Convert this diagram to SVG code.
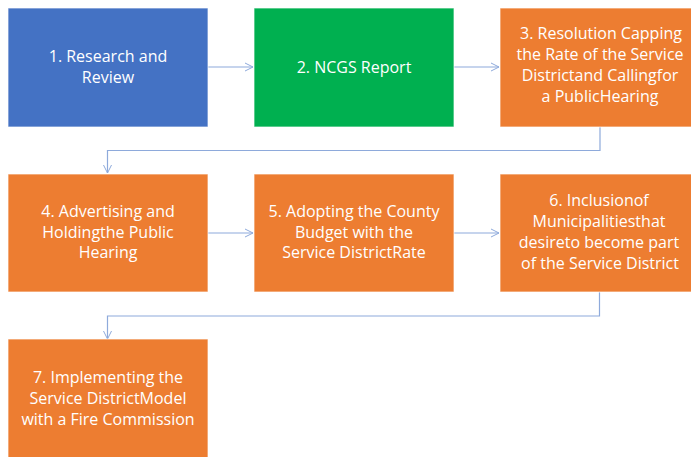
<svg xmlns="http://www.w3.org/2000/svg" width="691" height="457" viewBox="0 0 691 457">
<defs>
<style>
.box{stroke:#ffffff;stroke-opacity:0.7;stroke-width:1}
.blue{fill:#4472C4}
.green{fill:#00B050}
.orange{fill:#ED7D31}
.t{font-family:"Open Sans","Liberation Sans",sans-serif;font-size:16px;fill:#ffffff;text-anchor:middle}
.c{fill:none;stroke:#8EAADB;stroke-width:1.2}
</style>
<marker id="ah" markerWidth="10" markerHeight="10" refX="9" refY="5" orient="auto" markerUnits="userSpaceOnUse">
<path d="M1,1 L9,5 L1,9" fill="none" stroke="#8EAADB" stroke-width="1"/>
</marker>
</defs>
<rect width="691" height="457" fill="#ffffff"/>
<g id="connectors">
<line class="c" x1="208" y1="67" x2="253" y2="67" marker-end="url(#ah)"/>
<line class="c" x1="454" y1="67" x2="499" y2="67" marker-end="url(#ah)"/>
<path class="c" d="M600,127 V150.5 H107.5 V173" marker-end="url(#ah)"/>
<line class="c" x1="208" y1="233" x2="253" y2="233" marker-end="url(#ah)"/>
<line class="c" x1="454" y1="233" x2="499" y2="233" marker-end="url(#ah)"/>
<path class="c" d="M599.5,292 V316 H107.5 V339" marker-end="url(#ah)"/>
</g>
<g id="node1">
<rect class="box blue" x="8" y="8" width="200" height="119"/>
<text class="t" x="108" y="62">1. Research and</text>
<text class="t" x="108" y="83">Review</text>
</g>
<g id="node2">
<rect class="box green" x="254" y="8" width="200" height="119"/>
<text class="t" x="354" y="73">2. NCGS Report</text>
</g>
<g id="node3">
<rect class="box orange" x="500" y="8" width="200" height="119"/>
<text class="t" x="601" y="39">3. Resolution Capping</text>
<text class="t" x="600" y="60">the Rate of the Service</text>
<text class="t" x="600" y="81">Districtand Callingfor</text>
<text class="t" x="600" y="102">a PublicHearing</text>
</g>
<g id="node4">
<rect class="box orange" x="8" y="174" width="200" height="118"/>
<text class="t" x="108" y="217">4. Advertising and</text>
<text class="t" x="108" y="238">Holdingthe Public</text>
<text class="t" x="108" y="258">Hearing</text>
</g>
<g id="node5">
<rect class="box orange" x="254" y="174" width="200" height="118"/>
<text class="t" x="354" y="217">5. Adopting the County</text>
<text class="t" x="354" y="238">Budget with the</text>
<text class="t" x="354" y="258">Service DistrictRate</text>
</g>
<g id="node6">
<rect class="box orange" x="500" y="174" width="200" height="118"/>
<text class="t" x="599" y="206">6. Inclusionof</text>
<text class="t" x="599" y="227">Municipalitiesthat</text>
<text class="t" x="599" y="248">desireto become part</text>
<text class="t" x="600" y="269">of the Service District</text>
</g>
<g id="node7">
<rect class="box orange" x="8" y="339" width="200" height="119"/>
<text class="t" x="108" y="383">7. Implementing the</text>
<text class="t" x="108" y="404">Service DistrictModel</text>
<text class="t" x="108" y="425">with a Fire Commission</text>
</g>
</svg>
